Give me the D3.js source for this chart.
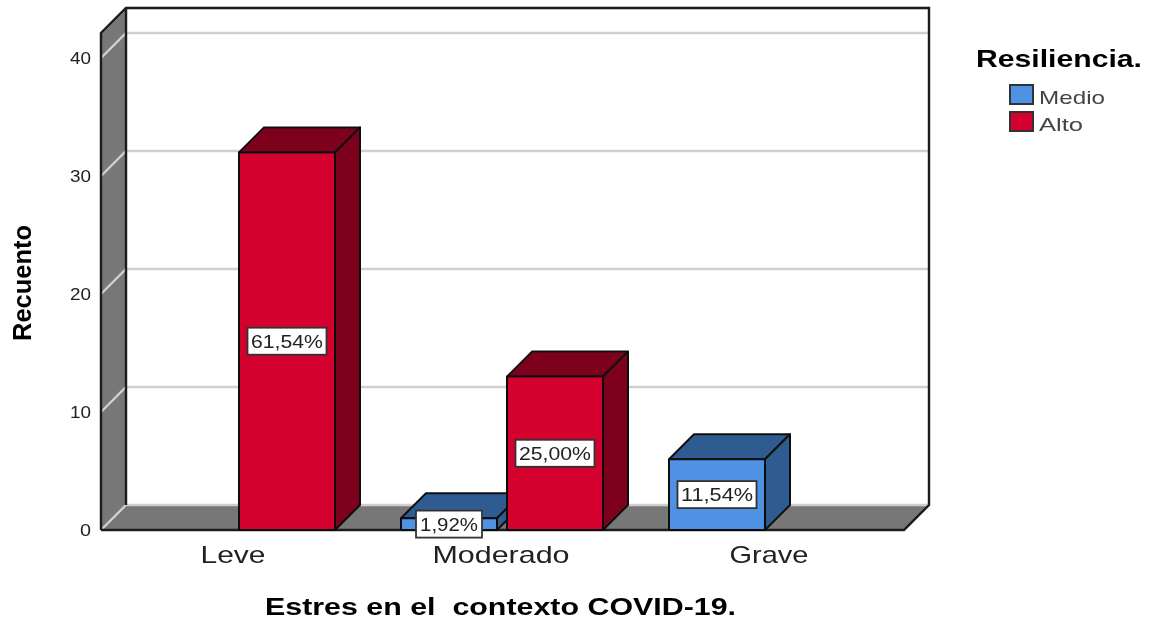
<!DOCTYPE html>
<html>
<head>
<meta charset="utf-8">
<script src="https://cdnjs.cloudflare.com/ajax/libs/d3/7.8.5/d3.min.js"></script>
<style>
  body { margin: 0; background: #fff; }
  svg { display: block; }
  text { font-family: "Liberation Sans", Arial, sans-serif; fill: #222; white-space: pre; }
</style>
</head>
<body>
<div id="chart"></div>
<script>
var categories = ['Leve', 'Moderado', 'Grave'];
var series = ['Medio', 'Alto'];
var medio = [0, 1, 6];
var alto = [32, 13, 0];
var medioLabels = ['', '1,92%', '11,54%'];
var altoLabels = ['61,54%', '25,00%', ''];
var yTicks = [0, 10, 20, 30, 40];

var width = 1149;
var height = 620;
var depth = 25;

var colors = {
  Medio: { front: '#4f92e3', dark: '#2f5c90' },
  Alto: { front: '#d4002f', dark: '#7d001b' }
};

var svg = d3.select('#chart')
  .append('svg')
  .attr('width', width)
  .attr('height', height);

var plot = svg.append('g').attr('filter', 'url(#soft)');

svg.append('filter')
  .attr('id', 'soft')
  .attr('x', 0).attr('y', 0)
  .attr('width', '100%').attr('height', '100%')
  .attr('filterUnits', 'userSpaceOnUse')
  .append('feGaussianBlur')
  .attr('stdDeviation', 0.5);

var x = d3.scaleBand()
  .domain(categories)
  .range([99, 903]);

var xInner = d3.scaleBand()
  .domain(series)
  .range([-100, 102])
  .paddingInner(0.0943);

var y = d3.scaleLinear()
  .domain([0, 40])
  .range([530, 58]);

var yTop = 33;
var left = 101;
var right = 904;

function pts(a) {
  return a.map(function(p) { return p.join(','); }).join(' ');
}

// side wall and floor
plot.append('polygon')
  .attr('points', pts([[left, y(0)], [left, yTop], [left + depth, yTop - depth], [left + depth, y(0) - depth]]))
  .attr('fill', '#777');

plot.append('polygon')
  .attr('points', pts([[left, y(0)], [right, y(0)], [right + depth, y(0) - depth], [left + depth, y(0) - depth]]))
  .attr('fill', '#777');

// gridlines, they bend along the wall
var grid = plot.append('g');
grid.selectAll('.wall')
  .data(yTicks.concat([43]))
  .enter().append('polyline')
  .attr('points', function(d) {
    var yy = d === 43 ? yTop : y(d);
    return pts([[left, yy], [left + depth, yy - depth], [right + depth, yy - depth]]);
  })
  .attr('fill', 'none')
  .attr('stroke', '#cfcfcf')
  .attr('stroke-width', 2.4);

// frame
var frame = [
  [[left, y(0)], [left, yTop], [left + depth, yTop - depth], [right + depth, yTop - depth], [right + depth, y(0) - depth], [right, y(0)], [left, y(0)]],
  [[left + depth, yTop - depth], [left + depth, y(0) - depth]]
];
plot.selectAll('.frame')
  .data(frame)
  .enter().append('polyline')
  .attr('points', pts)
  .attr('fill', 'none')
  .attr('stroke', '#1a1a1a')
  .attr('stroke-width', 2.4);

// bars, one record per category and series
var bars = [];
var labels = [];
categories.forEach(function(c, i) {
  [medio[i], alto[i]].forEach(function(v, j) {
    if (v > 0) {
      bars.push({ cat: c, name: series[j], value: v });
      labels.push({ cat: c, name: series[j], value: v, text: j === 0 ? medioLabels[i] : altoLabels[i] });
    }
  });
});

var bar = plot.selectAll('.bar')
  .data(bars)
  .enter().append('g')
  .attr('class', 'bar')
  .attr('stroke', '#111')
  .attr('stroke-width', 2)
  .attr('stroke-linejoin', 'round');

function x0(d) { return x(d.cat) + x.bandwidth() / 2 + xInner(d.name); }
function x1(d) { return x0(d) + xInner.bandwidth(); }

bar.append('polygon')
  .attr('fill', function(d) { return colors[d.name].dark; })
  .attr('points', function(d) {
    return pts([[x0(d), y(d.value)], [x1(d), y(d.value)], [x1(d) + depth, y(d.value) - depth], [x0(d) + depth, y(d.value) - depth]]);
  });

bar.append('polygon')
  .attr('fill', function(d) { return colors[d.name].dark; })
  .attr('points', function(d) {
    return pts([[x1(d), y(0)], [x1(d), y(d.value)], [x1(d) + depth, y(d.value) - depth], [x1(d) + depth, y(0) - depth]]);
  });

bar.append('rect')
  .attr('x', x0)
  .attr('y', function(d) { return y(d.value); })
  .attr('width', xInner.bandwidth())
  .attr('height', function(d) { return y(0) - y(d.value); })
  .attr('fill', function(d) { return colors[d.name].front; });

// value labels
var label = plot.selectAll('.label')
  .data(labels)
  .enter().append('g')
  .attr('class', 'label')
  .attr('transform', function(d) {
    return 'translate(' + ((x0(d) + x1(d)) / 2) + ',' + ((y(0) + y(d.value)) / 2) + ')';
  });

label.append('rect')
  .attr('x', function(d) { return d.text.length === 5 ? -33 : -39.5; })
  .attr('y', -13.5)
  .attr('width', function(d) { return d.text.length === 5 ? 66 : 79; })
  .attr('height', 27)
  .attr('fill', '#fff')
  .attr('stroke', '#333')
  .attr('stroke-width', 1.8);

label.append('text')
  .attr('text-anchor', 'middle')
  .attr('y', 6.5)
  .attr('font-size', 18)
  .attr('textLength', function(d) { return d.text.length === 5 ? 58 : 72; })
  .attr('lengthAdjust', 'spacingAndGlyphs')
  .text(function(d) { return d.text; });

// axes, the picture is stretched wider than the font so use textLength
var yAxis = d3.axisLeft(y).tickValues(yTicks).tickSize(0).tickPadding(10);
var yg = plot.append('g')
  .attr('transform', 'translate(' + left + ',0)')
  .call(yAxis);
yg.select('.domain').remove();
yg.selectAll('text')
  .attr('font-size', 16)
  .attr('fill', '#111')
  .attr('dy', '0.36em')
  .attr('textLength', function(d) { return d === 0 ? 11 : 21; })
  .attr('lengthAdjust', 'spacingAndGlyphs');

var xAxis = d3.axisBottom(x).tickSize(0).tickPadding(0);
var xg = plot.append('g')
  .attr('transform', 'translate(0,546)')
  .call(xAxis);
xg.select('.domain').remove();
var catWidths = [65, 137, 79];
xg.selectAll('text')
  .attr('font-size', 24)
  .attr('fill', '#444')
  .attr('textLength', function(d, i) { return catWidths[i]; })
  .attr('lengthAdjust', 'spacingAndGlyphs');

plot.append('text')
  .attr('x', 500.5)
  .attr('y', 615)
  .attr('text-anchor', 'middle')
  .attr('font-size', 23)
  .attr('font-weight', 'bold')
  .attr('fill', '#000')
  .style('fill', '#000')
  .attr('textLength', 471)
  .attr('lengthAdjust', 'spacingAndGlyphs')
  .text('Estres en el  contexto COVID-19.');

plot.append('text')
  .attr('transform', 'translate(31,283) rotate(-90)')
  .attr('text-anchor', 'middle')
  .attr('font-size', 25)
  .attr('font-weight', 'bold')
  .style('fill', '#000')
  .attr('textLength', 116)
  .attr('lengthAdjust', 'spacingAndGlyphs')
  .text('Recuento');

// legend
plot.append('text')
  .attr('x', 976)
  .attr('y', 67)
  .attr('font-size', 24)
  .attr('font-weight', 'bold')
  .style('fill', '#000')
  .attr('textLength', 166)
  .attr('lengthAdjust', 'spacingAndGlyphs')
  .text('Resiliencia.');

var legendWidths = [66, 44];
var legend = plot.selectAll('.legend')
  .data(series)
  .enter().append('g')
  .attr('class', 'legend')
  .attr('transform', function(d, i) { return 'translate(1010,' + (85 + i * 27) + ')'; });

legend.append('rect')
  .attr('width', 23)
  .attr('height', 19)
  .attr('fill', function(d) { return colors[d].front; })
  .attr('stroke', '#333')
  .attr('stroke-width', 2);

legend.append('text')
  .attr('x', 29)
  .attr('y', 19)
  .attr('font-size', 19)
  .style('fill', '#444')
  .attr('textLength', function(d, i) { return legendWidths[i]; })
  .attr('lengthAdjust', 'spacingAndGlyphs')
  .text(function(d) { return d; });
</script>
</body>
</html>
